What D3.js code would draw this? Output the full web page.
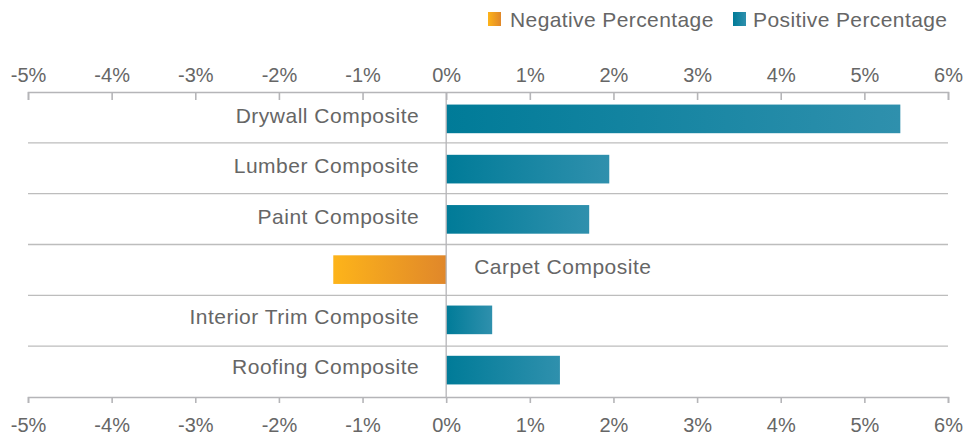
<!DOCTYPE html>
<html><head><meta charset="utf-8">
<script src="https://cdn.jsdelivr.net/npm/d3@7"></script>
<style>
html,body{margin:0;padding:0;background:#fff;}
text{font-family:"Liberation Sans",Arial,sans-serif;fill:#666;}
</style></head>
<body><svg id="c" width="980" height="443"></svg>
<script>
const categories = ["Drywall Composite","Lumber Composite","Paint Composite","Carpet Composite","Interior Trim Composite","Roofing Composite"];
const values = [5.43, 1.95, 1.71, -1.35, 0.55, 1.36];
const tickValues = [-5,-4,-3,-2,-1,0,1,2,3,4,5,6];
const legendLabels = ["Negative Percentage","Positive Percentage"];

const svg = d3.select("#c");
const defs = svg.append("defs");
const gPos = defs.append("linearGradient").attr("id","gPos").attr("x1","0").attr("x2","1").attr("y1","0").attr("y2","0");
gPos.append("stop").attr("offset","0").attr("stop-color","#007b98");
gPos.append("stop").attr("offset","1").attr("stop-color","#2f90ad");
const gNeg = defs.append("linearGradient").attr("id","gNeg").attr("x1","0").attr("x2","1").attr("y1","0").attr("y2","0");
gNeg.append("stop").attr("offset","0").attr("stop-color","#fdb41a");
gNeg.append("stop").attr("offset","1").attr("stop-color","#e0872a");

const x = d3.scaleLinear().domain([-5,6]).range([28,948]);
const yTop = 92, yBot = 397;
const y = d3.scaleBand().domain(categories).range([yTop,yBot]).paddingInner(0.43).paddingOuter(0.25);
const rowH = (yBot-yTop)/categories.length;

// row separators
for(let i=1;i<categories.length;i++){
  svg.append("line").attr("x1",28).attr("x2",948).attr("y1",yTop+i*rowH).attr("y2",yTop+i*rowH)
    .attr("stroke","#bdbdbd").attr("stroke-width",1.3);
}

function styleAxis(g){
  g.select(".domain").attr("stroke","#b5b5b8").attr("stroke-width",1.6);
  g.selectAll(".tick line").attr("stroke","#b5b5b8").attr("stroke-width",1.6);
  g.selectAll(".tick text").style("font-size","20px").attr("fill","#666");
}
const fmt = d=>d+"%";
const axTop = svg.append("g").attr("transform",`translate(0,${yTop})`)
  .call(d3.axisBottom(x).tickValues(tickValues).tickFormat(fmt).tickSize(8).tickSizeOuter(8).tickPadding(-18));
styleAxis(axTop);
axTop.selectAll(".tick text").attr("dy","0");
const axBot = svg.append("g").attr("transform",`translate(0,${yBot})`)
  .call(d3.axisBottom(x).tickValues(tickValues).tickFormat(fmt).tickSize(6).tickSizeOuter(6).tickPadding(15));
styleAxis(axBot);

// bars
svg.selectAll("rect.bar").data(categories).enter().append("rect").attr("class","bar")
  .attr("x",(d,i)=>x(Math.min(0,values[i])))
  .attr("width",(d,i)=>Math.abs(x(values[i])-x(0)))
  .attr("y",d=>y(d)).attr("height",y.bandwidth())
  .attr("fill",(d,i)=>values[i]<0?"url(#gNeg)":"url(#gPos)");

// zero line
svg.append("line").attr("x1",x(0)).attr("x2",x(0)).attr("y1",yTop).attr("y2",yBot)
  .attr("stroke","#b5b5b8").attr("stroke-width",1.3);

// category labels
svg.selectAll("text.cat").data(categories).enter().append("text").attr("class","cat")
  .attr("x",(d,i)=>values[i]<0?x(0)+28:x(0)-27)
  .attr("y",d=>y(d)+y.bandwidth()/2).attr("dy","0.2em")
  .attr("text-anchor",(d,i)=>values[i]<0?"start":"end")
  .style("font-size","21px").style("letter-spacing","0.5px").text(d=>d);

// legend
const leg = [{label:legendLabels[0],fill:"url(#gNeg)",x:488,tx:510},{label:legendLabels[1],fill:"url(#gPos)",x:733,tx:753}];
leg.forEach(l=>{
  svg.append("rect").attr("x",l.x).attr("y",12).attr("width",13).attr("height",14).attr("fill",l.fill);
  svg.append("text").attr("x",l.tx).attr("y",27).style("font-size","21px").style("letter-spacing","0.4px").text(l.label);
});
</script></body></html>
